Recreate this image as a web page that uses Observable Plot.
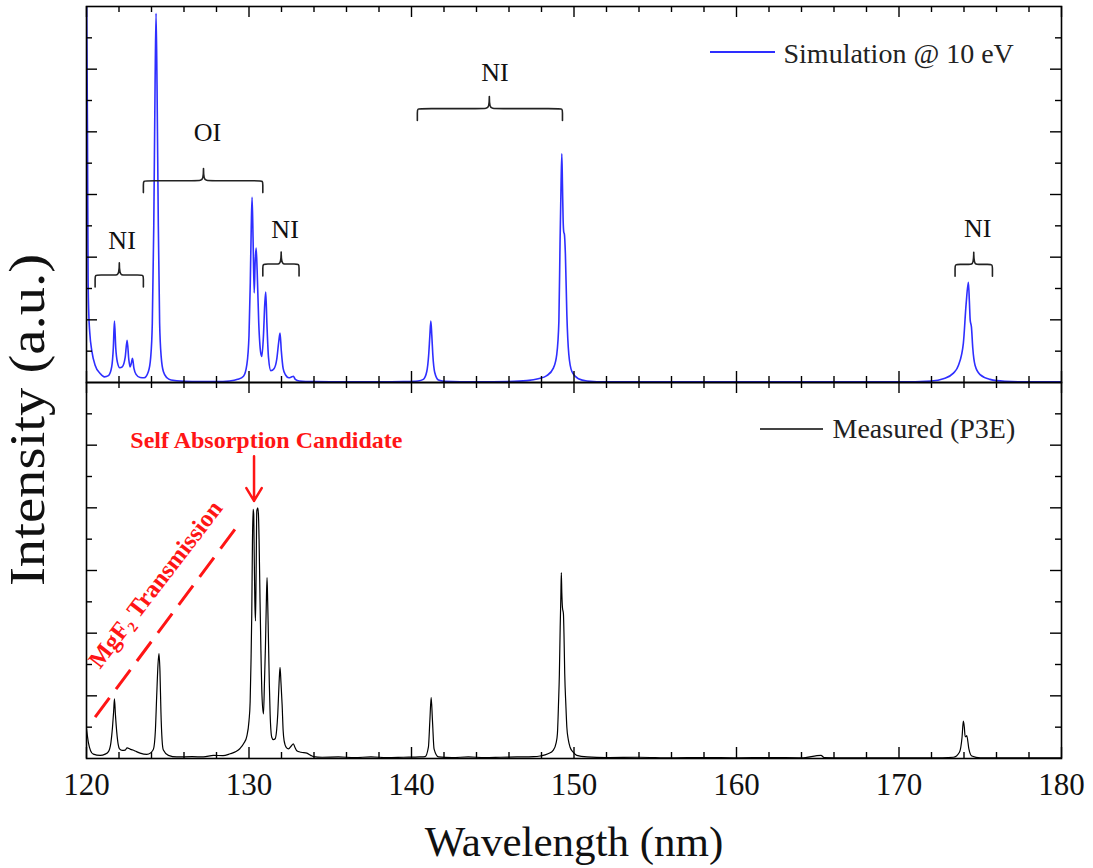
<!DOCTYPE html>
<html><head><meta charset="utf-8">
<script src="https://cdn.jsdelivr.net/npm/d3@7"></script>
<script src="https://cdn.jsdelivr.net/npm/@observablehq/plot@0.6"></script>
<style>body{margin:0;background:#fff}</style>
</head><body><div id="chart"></div>
<script>
// ---- Simulation @ 10 eV (wavelength nm, intensity a.u.)
const simWavelength = [120.00,120.06,120.10,120.14,120.20,120.33,120.53,120.84,121.10,121.35,121.55,121.65,121.72,121.80,121.90,122.05,122.20,122.38,122.50,122.60,122.68,122.76,122.83,122.92,123.05,123.30,123.55,123.81,123.95,124.05,124.14,124.22,124.28,124.34,124.42,124.50,124.60,124.73,124.95,125.20,126.0,127.0,128.0,128.8,129.3,129.66,129.87,130.00,130.08,130.14,130.19,130.25,130.32,130.38,130.44,130.50,130.60,130.72,130.79,130.89,130.97,131.03,131.10,131.20,131.34,131.55,131.71,131.83,131.91,131.99,132.10,132.25,132.45,132.63,132.73,132.85,133.1,134,136,138,139.5,140.4,140.73,140.94,141.06,141.13,141.19,141.25,141.31,141.43,141.66,142.0,144,146,147.1,147.8,148.33,148.73,148.94,149.07,149.14,149.20,149.25,149.29,149.33,149.37,149.41,149.47,149.56,149.68,149.87,150.27,150.8,152,160,170,172.0,172.73,173.35,173.66,173.96,174.13,174.27,174.33,174.38,174.46,174.54,174.68,174.99,175.6,176.5,178,180];
const simIntensity = [13.0,8.0,3.2,2.2,1.6,1.0,0.55,0.29,0.18,0.22,0.5,1.1,1.96,1.1,0.65,0.47,0.5,0.8,1.35,0.75,0.5,0.62,0.77,0.45,0.26,0.16,0.15,0.35,0.8,1.9,5.0,9.5,11.78,9.5,5.0,1.9,0.8,0.35,0.15,0.08,0.04,0.03,0.03,0.05,0.1,0.2,0.58,1.5,3.2,5.0,5.91,4.6,2.86,3.88,4.29,3.6,1.9,0.95,0.83,1.5,2.5,2.89,1.9,0.8,0.38,0.45,0.75,1.3,1.58,1.0,0.45,0.24,0.15,0.18,0.2,0.1,0.05,0.03,0.02,0.02,0.03,0.05,0.1,0.35,0.9,1.5,1.96,1.5,0.9,0.32,0.08,0.04,0.02,0.03,0.06,0.12,0.22,0.46,0.9,1.96,4.42,6.2,7.30,6.3,5.2,4.8,4.73,4.1,2.17,0.9,0.35,0.12,0.05,0.02,0.02,0.02,0.05,0.12,0.3,0.55,1.25,2.5,3.2,2.6,2.0,1.76,1.1,0.55,0.25,0.1,0.04,0.02,0.02];

// ---- Measured (P3E)
const measWavelength = [120.00,120.12,120.25,120.42,120.84,121.15,121.35,121.50,121.60,121.67,121.72,121.78,121.86,121.95,122.03,122.2,122.38,122.5,122.68,122.85,122.99,123.3,123.71,123.95,124.12,124.24,124.32,124.40,124.46,124.52,124.58,124.65,124.73,125.04,125.55,126.5,127.2,127.81,128.4,128.84,129.2,129.45,129.7,129.86,130.0,130.07,130.12,130.17,130.21,130.25,130.29,130.31,130.36,130.40,130.44,130.48,130.54,130.58,130.62,130.68,130.73,130.80,130.89,130.95,131.01,131.06,131.11,131.15,131.19,131.25,131.3,131.4,131.5,131.61,131.70,131.77,131.85,131.91,131.97,132.04,132.1,132.16,132.3,132.43,132.6,132.73,132.83,132.94,133.2,133.56,133.8,133.96,134.5,135.5,136.5,137.5,138.5,139.5,140.5,140.84,141.04,141.13,141.21,141.29,141.39,141.66,142.5,143.5,144.5,145.5,146.5,147.5,147.91,148.4,148.73,148.9,148.98,149.05,149.10,149.15,149.19,149.22,149.25,149.29,149.35,149.39,149.43,149.5,149.56,149.65,149.76,149.95,150.17,150.8,152,154,156,158,160,162,164,165.2,165.4,166.5,168,170,172,173.35,173.72,173.88,173.96,174.02,174.07,174.12,174.17,174.3,174.48,175,177,180];
const measIntensity = [0.95,0.5,0.25,0.14,0.1,0.14,0.22,0.5,1.0,1.5,1.9,1.4,0.85,0.45,0.31,0.26,0.27,0.34,0.3,0.27,0.24,0.17,0.13,0.18,0.3,0.9,2.0,3.0,3.35,2.8,1.5,0.6,0.27,0.1,0.05,0.06,0.05,0.1,0.09,0.15,0.22,0.32,0.5,0.7,1.2,1.8,3.0,4.61,6.8,7.95,7.8,7.0,5.0,4.39,6.0,7.9,8.0,7.8,7.0,5.0,3.54,2.0,1.42,2.4,3.54,4.8,5.77,5.0,4.0,2.4,1.42,0.68,0.6,0.63,0.9,1.42,2.4,2.91,2.4,1.7,0.9,0.57,0.35,0.31,0.4,0.47,0.35,0.25,0.2,0.17,0.1,0.06,0.04,0.05,0.03,0.05,0.03,0.04,0.05,0.06,0.36,1.21,1.95,1.21,0.3,0.05,0.03,0.05,0.03,0.04,0.05,0.06,0.08,0.15,0.27,0.5,0.8,1.8,2.7,4.2,5.14,5.93,5.3,4.82,4.61,3.8,2.7,1.7,1.0,0.6,0.36,0.2,0.1,0.05,0.03,0.04,0.02,0.03,0.02,0.03,0.02,0.1,0.03,0.02,0.02,0.02,0.02,0.04,0.2,0.68,1.19,1.0,0.7,0.7,0.73,0.31,0.08,0.02,0.02,0.02];

// ---- Axis ticks
const xMajorTicks = [120,130,140,150,160,170,180];
const xMinorTicks = [122,124,126,128,132,134,136,138,142,144,146,148,152,154,156,158,162,164,166,168,172,174,176,178];
const yMajorTicks = [2,4,6,8,10];
const yMinorTicks = [1,3,5,7,9,11];
const xTitle = "Wavelength (nm)";
const yTitle = "Intensity (a.u.)";

// ---- Bracket annotations (simulation panel)
const bracketLabels = ["NI","OI","NI","NI","NI"];
const bracketStart  = [120.53,123.50,130.85,140.36,173.45];
const bracketEnd    = [123.50,130.85,133.08,149.29,175.75];
const bracketMid    = [122.02,127.20,131.98,144.79,174.60];
const bracketLevel  = [3.43,6.44,3.78,8.74,3.77];
const labelX        = [122.19,127.45,132.22,145.13,174.84];
const labelY        = [4.26,7.72,4.62,9.62,4.65];

// ---- Red annotations (measured panel)
const arrowX = 130.31, arrowFrom = 9.65, arrowTo = 8.22;
const candidateText = "Self Absorption Candidate", candidateX = 131.07, candidateY = 9.91;
const dashStart = [120.53, 1.32], dashEnd = [129.29, 7.42];
const mgText = "MgF\u2082 Transmission", mgX = 124.25, mgY = 5.56;

// ---- Legend
const seriesNames = ["Simulation @ 10 eV", "Measured (P3E)"];
const seriesColors = ["#2e2eff", "#000000"];

const sim = simWavelength.map((w, i) => ({w, v: simIntensity[i], panel: "sim"}));
const meas = measWavelength.map((w, i) => ({w, v: measIntensity[i], panel: "meas"}));

const bracketPts = [];
bracketLabels.forEach((lab, i) => {
  const x1 = bracketStart[i], x2 = bracketEnd[i], xm = bracketMid[i], L = bracketLevel[i];
  const c = 0.25, drop = 0.38, up = 0.58;
  [[x1, L - drop],[x1, L - 0.12],[x1, L],[x1 + c, L],[xm - c, L],[xm, L],[xm, L + up],[xm, L],[xm + c, L],[x2 - c, L],[x2, L],[x2, L - 0.12],[x2, L - drop]]
    .forEach(([x, y]) => bracketPts.push({id: i, x, y}));
});
const bracketText = bracketLabels.map((t, i) => ({t, x: labelX[i], y: labelY[i]}));

const W = 1093, H = 868, mL = 86, mR = 32, mT = 6, mB = 110;
const FH = (H - mT - mB) / 2, FW = W - mL - mR;
const axisColor = "#000";
const fontFamily = "'Liberation Serif','Times New Roman',serif";

const chart = Plot.plot({
  width: W, height: H,
  marginLeft: mL, marginRight: mR, marginTop: mT, marginBottom: mB,
  style: {fontFamily, background: "#fff", color: "#000"},
  x: {domain: [120, 180]},
  y: {domain: [0, 12], axis: null},
  fy: {domain: ["sim", "meas"], axis: null, padding: 0},
  marks: [
    // data
    Plot.line(sim, {x: "w", y: "v", fy: "panel", stroke: seriesColors[0], strokeWidth: 1.6, curve: "monotone-x", clip: true}),
    Plot.line(meas, {x: "w", y: "v", fy: "panel", stroke: seriesColors[1], strokeWidth: 1.2, curve: "monotone-x", clip: true}),
    // frame + inward ticks
    Plot.frame({stroke: axisColor, strokeWidth: 1.6}),
    Plot.tickX(xMinorTicks, {x: d => d, insetTop: FH - 6, stroke: axisColor, strokeWidth: 1.4}),
    Plot.tickX(xMajorTicks, {x: d => d, insetTop: FH - 11, stroke: axisColor, strokeWidth: 1.4}),
    Plot.tickX(xMinorTicks, {x: d => d, insetBottom: FH - 6, stroke: axisColor, strokeWidth: 1.4}),
    Plot.tickX(xMajorTicks, {x: d => d, insetBottom: FH - 11, stroke: axisColor, strokeWidth: 1.4}),
    Plot.tickY(yMinorTicks, {y: d => d, insetRight: FW - 6, stroke: axisColor, strokeWidth: 1.4}),
    Plot.tickY(yMajorTicks, {y: d => d, insetRight: FW - 11, stroke: axisColor, strokeWidth: 1.4}),
    Plot.tickY(yMinorTicks, {y: d => d, insetLeft: FW - 6, stroke: axisColor, strokeWidth: 1.4}),
    Plot.tickY(yMajorTicks, {y: d => d, insetLeft: FW - 11, stroke: axisColor, strokeWidth: 1.4}),
    Plot.axisX(xMajorTicks, {anchor: "bottom", tickSize: 0, tickPadding: 14, fontSize: 31, label: null, fill: "#111"}),
    // x title
    Plot.text([xTitle], {fy: ["meas"], frameAnchor: "bottom", dy: 97, lineAnchor: "bottom", fontSize: 43, fill: "#111"}),
    // brackets
    Plot.line(bracketPts, {x: "x", y: "y", z: "id", fy: () => "sim", curve: "basis", stroke: "#222", strokeWidth: 1.6}),
    Plot.text(bracketText, {x: "x", y: "y", text: "t", fy: () => "sim", lineAnchor: "bottom", fontSize: 26, fill: "#111"}),
    // legends
    Plot.text([seriesNames[0]], {fy: ["sim"], frameAnchor: "top-left", dx: 697, dy: 56, textAnchor: "start", lineAnchor: "bottom", fontSize: 28, fill: "#222"}),
    Plot.text([seriesNames[1]], {fy: ["meas"], frameAnchor: "top-left", dx: 746, dy: 55, textAnchor: "start", lineAnchor: "bottom", fontSize: 28, fill: "#222"}),
    // red annotations
    Plot.link([0], {fy: ["meas"], x1: () => dashStart[0], y1: () => dashStart[1], x2: () => dashEnd[0], y2: () => dashEnd[1], stroke: "#ff1515", strokeWidth: 3, strokeDasharray: "24,11"}),
    Plot.arrow([0], {fy: ["meas"], x1: () => arrowX, x2: () => arrowX, y1: () => arrowFrom, y2: () => arrowTo, stroke: "#ff1515", strokeWidth: 2.5, headLength: 16, headAngle: 62}),
    Plot.text([candidateText], {fy: ["meas"], x: () => candidateX, y: () => candidateY, lineAnchor: "bottom", fontSize: 24, fontWeight: "bold", fill: "#ff1515"}),
    Plot.text([mgText], {fy: ["meas"], x: () => mgX, y: () => mgY, rotate: -52.5, fontSize: 24.5, fontWeight: "bold", fill: "#ff1515"})
  ]
});
document.getElementById("chart").appendChild(chart);

const svg = d3.select(chart);
// y-axis title spanning both panels
svg.append("text")
  .attr("transform", "translate(28,420) rotate(-90)")
  .attr("text-anchor", "middle").attr("dy", "0.32em")
  .attr("font-family", fontFamily).attr("font-size", 51)
  .attr("textLength", 332).attr("lengthAdjust", "spacingAndGlyphs")
  .attr("fill", "#111").text(yTitle);
// legend swatch lines
svg.append("line").attr("x1", 710).attr("x2", 775).attr("y1", 52).attr("y2", 52)
  .attr("stroke", seriesColors[0]).attr("stroke-width", 1.8);
svg.append("line").attr("x1", 760).attr("x2", 823).attr("y1", 429).attr("y2", 429)
  .attr("stroke", "#444").attr("stroke-width", 1.8);
</script>
</body></html>
